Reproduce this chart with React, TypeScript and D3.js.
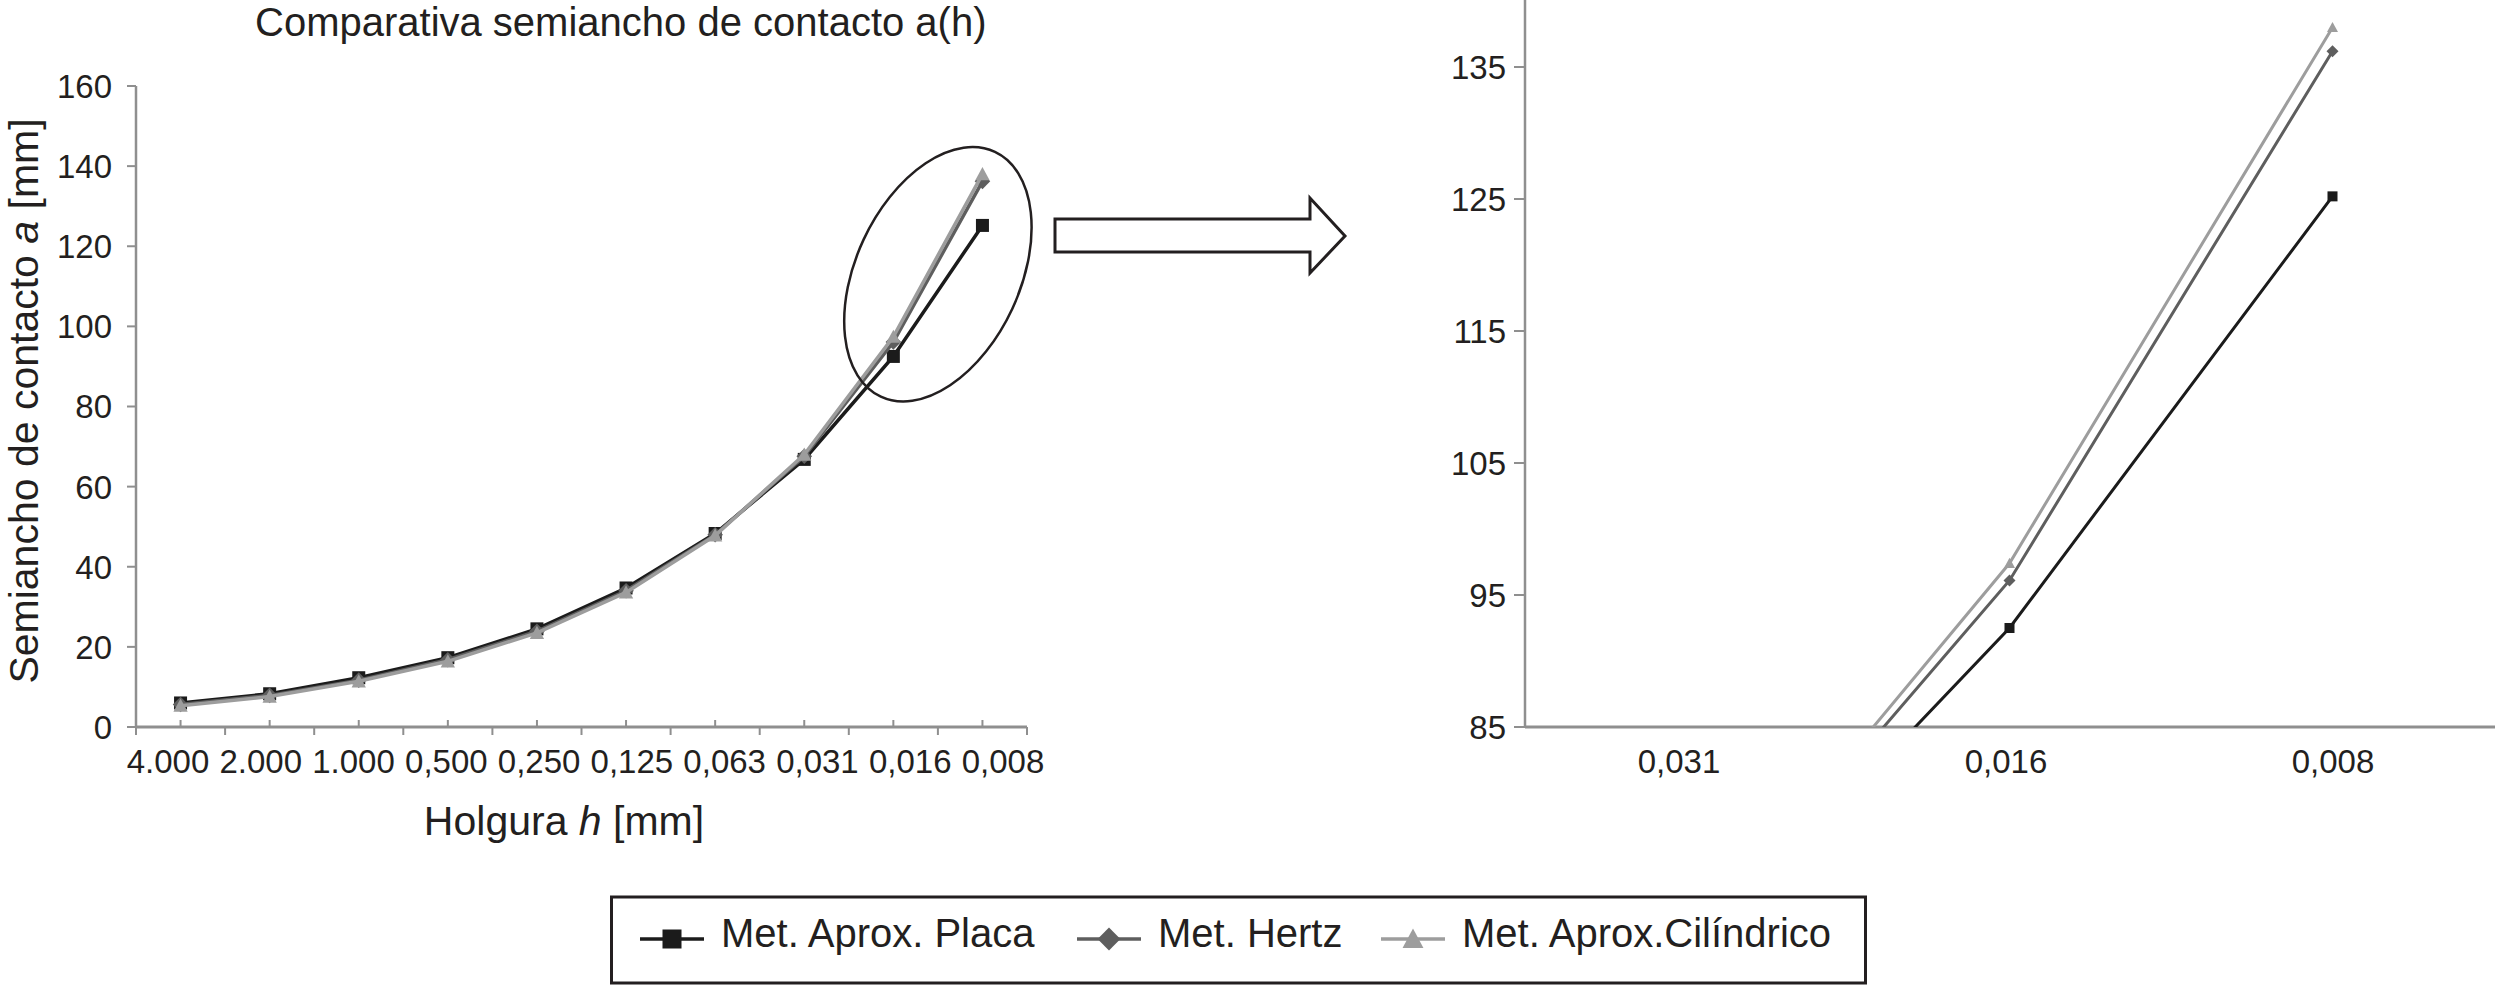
import React from 'react'
import * as d3 from 'd3'

// holgura h [mm] categories (left chart) and the zoomed subset (right chart)
const categories = ['4.000', '2.000', '1.000', '0,500', '0,250', '0,125', '0,063', '0,031', '0,016', '0,008']
const zoomCategories = ['0,031', '0,016', '0,008']

// semiancho de contacto a [mm]
const placa = [6.0, 8.3, 12.3, 17.3, 24.5, 34.7, 48.3, 66.8, 92.5, 125.2]
const hertz = [5.6, 7.9, 11.7, 16.8, 23.9, 34.0, 48.0, 67.6, 96.1, 136.2]
const cilindrico = [5.3, 7.6, 11.4, 16.4, 23.5, 33.6, 47.8, 68.0, 97.4, 138.0]

const leftTicks = [0, 20, 40, 60, 80, 100, 120, 140, 160]
const rightTicks = [85, 95, 105, 115, 125, 135]

const W = 2495
const H = 985
const FONT = '"Liberation Sans", Arial, Helvetica, sans-serif'
const TXT = '#231f20'
const AXIS = '#8f8f8f'

const series = [
  { name: 'Met. Aprox. Placa', values: placa, color: '#1b1b1b', marker: 'square' },
  { name: 'Met. Hertz', values: hertz, color: '#5e5e5e', marker: 'diamond' },
  { name: 'Met. Aprox.Cilíndrico', values: cilindrico, color: '#9d9d9d', marker: 'triangle' },
]

function Marker({ kind, x, y, s, color }: { kind: string; x: number; y: number; s: number; color: string }) {
  if (kind === 'square') return <rect x={x - s / 2} y={y - s / 2} width={s} height={s} fill={color} />
  if (kind === 'diamond') {
    const h = s * 0.6
    return <path d={`M${x},${y - h}L${x + h},${y}L${x},${y + h}L${x - h},${y}Z`} fill={color} />
  }
  const h = s * 0.55
  return <path d={`M${x},${y - h}L${x + h},${y + h * 0.85}L${x - h},${y + h * 0.85}Z`} fill={color} />
}

export default function App() {
  // left chart
  const xL = d3.scaleBand().domain(categories).range([136, 1027])
  const yL = d3.scaleLinear().domain([0, 160]).range([727, 86])
  const cxL = (c: string) => (xL(c) as number) + xL.bandwidth() / 2
  // tick labels sit a little wider apart than the bands
  const labelL = d3.scalePoint().domain(categories).range([168, 1003])

  // right (zoomed) chart
  const xR = d3.scaleBand().domain(zoomCategories).range([1525, 2494])
  const yR = d3.scaleLinear().domain([85, 140]).range([727, 1])
  const cxR = (c: string) => (xR(c) as number) + xR.bandwidth() / 2
  const labelR = d3.scalePoint().domain(zoomCategories).range([1679, 2333])

  const lineL = d3.line<number>().x((_, i) => cxL(categories[i])).y(d => yL(d))
  const zoomStart = categories.indexOf(zoomCategories[0])
  const lineR = d3.line<number>().x((_, i) => cxR(zoomCategories[i])).y(d => yR(d))

  // ellipse around the last two points
  const eCx = (cxL('0,016') + cxL('0,008')) / 2
  const eCy = yL(113)

  // block arrow
  const ax0 = 1055, ax1 = 1310, ax2 = 1345, ay = 236
  const arrow = `M${ax0},${ay - 17}L${ax1},${ay - 17}L${ax1},${ay - 38}L${ax2},${ay}L${ax1},${ay + 37}L${ax1},${ay + 16}L${ax0},${ay + 16}Z`

  const boundaries = d3.range(categories.length + 1).map(i => 136 + i * xL.bandwidth())

  return (
    <svg width={W} height={H} style={{ position: 'absolute', left: 0, top: 0, background: '#fff' }} fontFamily={FONT}>
      <defs>
        <clipPath id="zoomClip">
          <rect x={1525} y={0} width={W - 1525} height={727} />
        </clipPath>
      </defs>

      {/* title */}
      <text x={255} y={36} fontSize={40} fill={TXT}>Comparativa semiancho de contacto a(h)</text>

      {/* left axes */}
      <line x1={136} x2={136} y1={86} y2={727} stroke={AXIS} strokeWidth={2.5} />
      {leftTicks.map(t => (
        <g key={t}>
          <line x1={127} x2={136} y1={yL(t)} y2={yL(t)} stroke={AXIS} strokeWidth={2} />
          <text x={112} y={yL(t)} dy="0.36em" textAnchor="end" fontSize={33} fill={TXT}>{t}</text>
        </g>
      ))}
      <line x1={136} x2={1027} y1={727} y2={727} stroke={AXIS} strokeWidth={2.8} />
      {boundaries.map((b, i) => (
        <line key={'b' + i} x1={b} x2={b} y1={727} y2={735} stroke={AXIS} strokeWidth={2} />
      ))}
      {categories.map(c => (
        <g key={c}>
          <line x1={cxL(c)} x2={cxL(c)} y1={720} y2={727} stroke={AXIS} strokeWidth={2} />
          <text x={labelL(c)} y={773} textAnchor="middle" fontSize={33} fill={TXT}>{c}</text>
        </g>
      ))}
      <text x={564} y={835} textAnchor="middle" fontSize={41} fill={TXT}>
        Holgura <tspan fontStyle="italic">h</tspan> [mm]
      </text>
      <text transform="translate(38,401) rotate(-90)" textAnchor="middle" fontSize={41} fill={TXT}>
        Semiancho de contacto <tspan fontStyle="italic">a</tspan> [mm]
      </text>

      {/* left series */}
      {series.map(s => (
        <g key={s.name}>
          <path d={lineL(s.values) || ''} fill="none" stroke={s.color} strokeWidth={3.5} />
          {s.values.map((v, i) => (
            <Marker key={i} kind={s.marker} x={cxL(categories[i])} y={yL(v)} s={13} color={s.color} />
          ))}
        </g>
      ))}

      {/* ellipse highlight */}
      <ellipse cx={eCx} cy={eCy} rx={135} ry={82} transform={`rotate(-65,${eCx},${eCy})`}
        fill="none" stroke={TXT} strokeWidth={2.5} />

      {/* arrow */}
      <path d={arrow} fill="#fff" stroke={TXT} strokeWidth={3} strokeLinejoin="miter" />

      {/* right axes */}
      <line x1={1525} x2={1525} y1={0} y2={727} stroke={AXIS} strokeWidth={2.5} />
      {rightTicks.map(t => (
        <g key={t}>
          <line x1={1514} x2={1525} y1={yR(t)} y2={yR(t)} stroke={AXIS} strokeWidth={2} />
          <text x={1506} y={yR(t)} dy="0.36em" textAnchor="end" fontSize={33} fill={TXT}>{t}</text>
        </g>
      ))}
      <line x1={1525} x2={W} y1={727} y2={727} stroke={AXIS} strokeWidth={3} />
      {zoomCategories.map(c => (
        <text key={c} x={labelR(c)} y={773} textAnchor="middle" fontSize={33} fill={TXT}>{c}</text>
      ))}

      {/* right series */}
      <g clipPath="url(#zoomClip)">
        {series.map(s => {
          const vals = s.values.slice(zoomStart)
          return (
            <g key={s.name}>
              <path d={lineR(vals) || ''} fill="none" stroke={s.color} strokeWidth={3} />
              {vals.map((v, i) => (
                <Marker key={i} kind={s.marker} x={cxR(zoomCategories[i])} y={yR(v)} s={10} color={s.color} />
              ))}
            </g>
          )
        })}
      </g>

      {/* legend */}
      <rect x={611.5} y={897} width={1254} height={86} fill="#fff" stroke={TXT} strokeWidth={3} />
      {series.map((s, i) => {
        const lx = [640, 1077, 1381][i]
        return (
          <g key={s.name}>
            <line x1={lx} x2={lx + 64} y1={939} y2={939} stroke={s.color} strokeWidth={3.5} />
            <Marker kind={s.marker} x={lx + 32} y={939} s={19} color={s.color} />
            <text x={lx + 81} y={947} fontSize={40} fill={TXT}>{s.name}</text>
          </g>
        )
      })}
    </svg>
  )
}
